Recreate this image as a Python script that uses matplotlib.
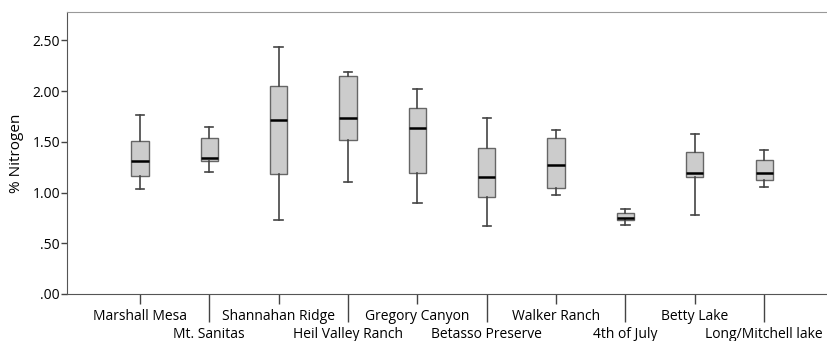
import matplotlib.pyplot as plt

sites = ["Marshall Mesa", "Mt. Sanitas", "Shannahan Ridge", "Heil Valley Ranch",
         "Gregory Canyon", "Betasso Preserve", "Walker Ranch", "4th of July",
         "Betty Lake", "Long/Mitchell lake"]
whis_lo = [1.03, 1.20, 0.73, 1.10, 0.90, 0.67, 0.98, 0.68, 0.78, 1.05]
q1 = [1.16, 1.31, 1.18, 1.52, 1.19, 0.96, 1.04, 0.73, 1.15, 1.12]
med = [1.31, 1.34, 1.71, 1.73, 1.64, 1.15, 1.27, 0.75, 1.19, 1.19]
q3 = [1.51, 1.535, 2.05, 2.15, 1.83, 1.44, 1.54, 0.80, 1.40, 1.32]
whis_hi = [1.76, 1.65, 2.43, 2.185, 2.02, 1.73, 1.62, 0.84, 1.58, 1.42]
yticks = [0, 0.5, 1.0, 1.5, 2.0, 2.5]
ytick_labels = [".00", ".50", "1.00", "1.50", "2.00", "2.50"]

plt.rcParams['font.family'] = ['Open Sans', 'DejaVu Sans']

fig = plt.figure(figsize=(8.28, 3.41), dpi=100)
ax = fig.add_axes([0.081, 0.138, 0.919, 0.827])

stats = []
for i, name in enumerate(sites):
    stats.append({"label": name, "whislo": whis_lo[i], "q1": q1[i], "med": med[i],
                  "q3": q3[i], "whishi": whis_hi[i], "fliers": []})

pos = list(range(len(sites)))
ax.bxp(stats, positions=pos, widths=0.25, patch_artist=True, showfliers=False,
       boxprops=dict(facecolor="#cccccc", edgecolor="#666666", linewidth=1.0),
       medianprops=dict(color="black", linewidth=1.8),
       whiskerprops=dict(color="#444444", linewidth=1.2),
       capprops=dict(color="#444444", linewidth=1.2),
       capwidths=0.12)

ax.set_xlim(-1.05, 9.92)
ax.set_ylim(0, 2.78)
ax.set_yticks(yticks)
ax.set_yticklabels(ytick_labels, fontsize=10)

# alternate labels on two rows: even sites on short ticks, odd on long ticks
even = pos[0::2]
odd = pos[1::2]
ax.set_xticks(even)
ax.set_xticklabels(sites[0::2], fontsize=10)
ax.set_xticks(odd, minor=True)
ax.set_xticklabels(sites[1::2], minor=True, fontsize=10)
ax.tick_params(axis="x", which="major", length=7.5, width=1, color="#444444", pad=3.5)
ax.tick_params(axis="x", which="minor", length=20, width=1, color="#444444", pad=3.5)
ax.tick_params(axis="y", length=4, width=1, color="#444444", pad=1)

ax.set_ylabel("% Nitrogen", fontsize=11, labelpad=6)

for s in ["left", "bottom"]:
    ax.spines[s].set_color("#555555")
ax.spines["top"].set_color("#999999")
ax.spines["right"].set_visible(False)

fig.savefig("out.png", dpi=100)
